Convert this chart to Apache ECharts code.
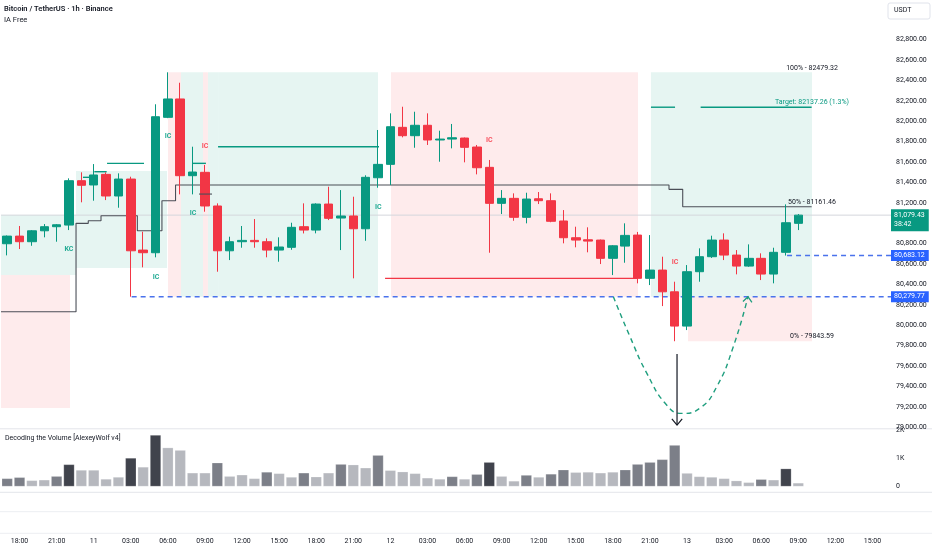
<!DOCTYPE html>
<html><head><meta charset="utf-8">
<script src="https://cdn.jsdelivr.net/npm/echarts@6/dist/echarts.min.js"></script>
<style>html,body{margin:0;padding:0;background:#fff}#c{width:932px;height:550px}</style>
</head><body><div id="c"></div><script>
// ---- time axis (one category per hour, 17:00 on day 10 .. 16:00 on day 13)
const timeLabels = ['17:00','18:00','19:00','20:00','21:00','22:00','23:00','11',
 '01:00','02:00','03:00','04:00','05:00','06:00','07:00','08:00','09:00','10:00','11:00','12:00','13:00','14:00','15:00','16:00','17:00','18:00','19:00','20:00','21:00','22:00','23:00','12',
 '01:00','02:00','03:00','04:00','05:00','06:00','07:00','08:00','09:00','10:00','11:00','12:00','13:00','14:00','15:00','16:00','17:00','18:00','19:00','20:00','21:00','22:00','23:00','13',
 '01:00','02:00','03:00','04:00','05:00','06:00','07:00','08:00','09:00','10:00','11:00','12:00','13:00','14:00','15:00','16:00'];

// ---- candles [open, close, low, high]
const candles = [
 [80799,80874,80685,80880],[80874,80819,80747,80973],[80819,80926,80779,80933],[80926,80966,80862,80992],
 [80966,80985,80819,80992],[80982,81417,80933,81440],[81417,81372,81205,81499],[81375,81473,81221,81580],
 [81479,81267,81227,81499],[81267,81433,81152,81489],[81433,80730,80280,81456],[80737,80711,80568,80917],
 [80711,82044,80666,82166],[82038,82218,82030,82479.32],[82218,81466,81283,82377],[81466,81502,81283,81750],
 [81499,81169,81113,81571],[81169,80730,80525,81195],[80730,80819,80639,80868],[80819,80832,80760,80973],
 [80832,80819,80760,81041],[80819,80737,80666,80852],[80737,80767,80623,80862],[80764,80960,80740,81005],
 [80966,80933,80900,81195],[80933,81188,80901,81195],[81188,81048,81031,81358],[81051,81071,80737,81325],
 [81071,80946,80460,81260],[80946,81450,80828,81470],[81446,81577,81348,81914],[81577,81946,81375,82077],
 [81940,81858,81842,82142],[81858,81960,81740,82093],[81960,81816,81767,82077],[81816,81825,81603,81907],
 [81825,81838,81734,81973],[81835,81744,81597,81840],[81747,81544,81479,81767],[81548,81195,80711,81620],
 [81195,81244,81090,81325],[81244,81058,81024,81293],[81058,81237,80999,81299],[81240,81221,81188,81306],
 [81221,81019,81010,81293],[81022,80858,80803,81129],[80858,80835,80764,80966],[80838,80825,80715,80960],
 [80835,80656,80600,80840],[80656,80779,80492,80785],[80776,80881,80613,80999],[80884,80460,80411,80915],
 [80460,80541,80394,80884],[80541,80328,80188,80672],[80328,79992,79843.59,80427],[79992,80525,79953,80590],
 [80525,80672,80427,80754],[80672,80835,80660,80878],[80835,80688,80639,80901],[80688,80580,80499,80737],
 [80580,80656,80573,80793],[80656,80502,80443,80705],[80502,80715,80411,80760],[80715,81005,80683.12,81185],
 [80999,81079.43,80933,81090]
];

// ---- volume (units) and its shade level: 0 light, 1 medium, 2 dark
const volumes = [290,330,220,240,370,790,590,590,270,340,1020,700,1840,1390,1300,490,490,850,370,420,290,520,470,340,490,350,490,800,780,670,1120,580,530,470,310,270,360,270,440,870,370,200,410,340,450,600,510,520,490,520,600,800,870,970,1480,480,360,340,290,210,150,260,240,640,130];
const volumeLevel = [1,1,0,0,1,2,0,0,0,0,2,0,2,0,0,0,0,1,0,0,0,1,0,0,1,0,0,1,0,0,1,0,0,0,0,0,1,0,1,2,0,0,1,0,1,1,0,0,0,0,1,1,1,1,1,0,0,0,0,0,0,1,0,2,0];

// ---- price levels
const level100 = 82479.32, level50 = 81161.46, level0 = 79843.59, targetLevel = 82137.26;
const blueLevels = [[10.07, 80279.77], [63.09, 80683.12]];
const lastPrice = 81079.43, countdown = '38:42';

// ---- zones [xStart, xEnd, priceTop, priceBottom] (x in candle-index units)
const tealZones = [[-0.5,5.57,81080,80492],[5.57,12.93,81512,80561],[14.06,15.84,level100,80279.77],[16.24,17.06,level100,80279.77],[17.06,30.0,level100,80279.77],[52.08,65.11,level100,80279.77]];
const redZones = [[-0.5,5.08,80492,79188],[13.01,14.06,level100,80279.77],[15.84,16.24,level100,80279.77],[31.05,51.03,level100,80279.77],[55.08,65.11,80279.77,level0]];

// ---- horizontal segments [xStart, xEnd, price]
const tealSegments = [[8.08,11.07,81587],[6.13,7.1,81450],[7.05,8.05,81505],[15.03,16.08,81587],[17.06,30.08,81750],[52.08,54.03,targetLevel],[56.1,65.08,targetLevel]];
const redSegments = [[30.57,50.95,80460]];
const darkSegments = [[15.52,16.57,81286]];

// ---- step line (dark) vertices [x, price]
const stepLine = [[-0.5,80132],[5.57,80132],[5.57,80999],[6.56,80999],[6.56,81025],[7.59,81025],[7.59,81074],[10.53,81074],[10.53,80927],[12.52,80927],[12.52,81221],[13.62,81221],[13.62,81375],[53.54,81375],[53.54,81332],[54.65,81332],[54.65,level50],[65.08,level50]];

// ---- dashed projection arc [x, price]
const arcPoints = [[49.04,80279.8],[50.39,79887],[51.74,79531],[53.35,79218],[54.57,79136],[56.05,79188],[57.40,79397],[58.74,79789],[59.93,80280]];
// ---- down arrow [x, priceFrom, priceTo]
const downArrow = [54.19, 79718, 79022];

// ---- text labels [x, price, text]
const levelTexts = [[65.11,level100,'100% - 82479.32'],[65.11,level50,'50% - 81161.46'],[65.11,level0,'0% - 79843.59']];
const targetTexts = [[65.11,targetLevel,'Target: 82137.26 (1.3%)']];
const greenMarks = [[5.0,80747,'KC'],[12.04,80472,'IC'],[13.01,81855,'IC'],[15.03,81100,'IC'],[30.02,81159,'IC']];
const redMarks = [[16.0,81757,'IC'],[39.0,81809,'IC'],[54.03,80620,'IC']];

const UP = '#089981', DOWN = '#f23645', TXT = '#131722', FONT = 'Roboto, sans-serif';
const volColors = ['#b6b8be', '#7c7f88', '#40434c'];
const fmt = v => v.toLocaleString('en-US', {minimumFractionDigits: 2, maximumFractionDigits: 2});

function zoneSeries(zones, color) {
  return {type: 'custom', xAxisIndex: 1, yAxisIndex: 0, z: 1, silent: true,
    encode: {x: [0, 2], y: [1, 3]},
    data: zones.map(z => [z[0], z[2], z[1], z[3]]),
    renderItem: (p, api) => {
      const a = api.coord([api.value(0), api.value(1)]);
      const b = api.coord([api.value(2), api.value(3)]);
      return {type: 'rect', shape: {x: a[0], y: a[1], width: b[0] - a[0], height: b[1] - a[1]}, style: {fill: color}};
    }};
}
function segSeries(segs, color, width, z) {
  return {type: 'custom', xAxisIndex: 1, yAxisIndex: 0, z: z, silent: true,
    encode: {x: [0, 2], y: [1, 3]},
    data: segs.map(s => [s[0], s[2], s[1], s[2]]),
    renderItem: (p, api) => {
      const a = api.coord([api.value(0), api.value(1)]);
      const b = api.coord([api.value(2), api.value(3)]);
      return {type: 'line', shape: {x1: a[0], y1: a[1], x2: b[0], y2: b[1]}, style: {stroke: color, lineWidth: width}};
    }};
}
function textSeries(items, color, size, weight, vAlign, dy) {
  return {type: 'custom', xAxisIndex: 1, yAxisIndex: 0, z: 8, silent: true,
    data: items.map(t => [t[0], t[1]]),
    renderItem: (p, api) => {
      const a = api.coord([api.value(0), api.value(1)]);
      return {type: 'text', x: a[0], y: a[1] + dy,
        style: {text: items[p.dataIndex][2], fill: color, font: weight + ' ' + size + 'px ' + FONT, align: 'center', verticalAlign: vAlign}};
    }};
}
function chevron(tip, dir, len, color, width) {
  const ang = Math.atan2(dir[1], dir[0]);
  const s = 0.7;
  const p1 = [tip[0] - len * Math.cos(ang - s), tip[1] - len * Math.sin(ang - s)];
  const p2 = [tip[0] - len * Math.cos(ang + s), tip[1] - len * Math.sin(ang + s)];
  return {type: 'polyline', shape: {points: [p1, tip, p2]}, style: {stroke: color, lineWidth: width, fill: null}};
}

const chart = echarts.init(document.getElementById('c'));
chart.setOption({
  animation: false,
  textStyle: {fontFamily: FONT},
  grid: [
    {left: 1, top: 0, width: 890, height: 427.3},
    {left: 1, top: 430.5, width: 890, height: 56}
  ],
  xAxis: [
    {type: 'category', gridIndex: 0, data: timeLabels, boundaryGap: true, axisLine: {show: false}, axisTick: {show: false}, axisLabel: {show: false}, splitLine: {show: false}},
    {type: 'value', gridIndex: 0, min: -0.5, max: 71.5, show: false},
    {type: 'category', gridIndex: 1, data: timeLabels, boundaryGap: true, axisLine: {show: false}, axisTick: {show: false}, splitLine: {show: false},
      axisLabel: {show: true, interval: (i) => i % 3 === 1, margin: 51, fontSize: 7, color: TXT}}
  ],
  yAxis: [
    {type: 'value', gridIndex: 0, position: 'right', min: 79000, max: 83188, interval: 200, scale: true,
      axisLine: {show: false}, axisTick: {show: false}, splitLine: {show: false},
      axisLabel: {fontSize: 7, color: TXT, margin: 5, formatter: v => v >= 83000 ? '' : fmt(v)}},
    {type: 'value', gridIndex: 1, position: 'right', min: 0, max: 2000, interval: 1000,
      axisLine: {show: false}, axisTick: {show: false}, splitLine: {show: false},
      axisLabel: {fontSize: 7, color: TXT, margin: 5, formatter: v => v === 0 ? '0' : (v / 1000) + 'K'}}
  ],
  graphic: [
    {type: 'line', shape: {x1: 0, y1: 428.8, x2: 932, y2: 428.8}, style: {stroke: '#e3e5ea', lineWidth: 1}, silent: true},
    {type: 'line', shape: {x1: 0, y1: 492.3, x2: 932, y2: 492.3}, style: {stroke: '#e3e5ea', lineWidth: 1}, silent: true},
    {type: 'line', shape: {x1: 0, y1: 511.7, x2: 932, y2: 511.7}, style: {stroke: '#eceef2', lineWidth: 1}, silent: true},
    {type: 'line', shape: {x1: 0, y1: 533.3, x2: 932, y2: 533.3}, style: {stroke: '#eceef2', lineWidth: 1}, silent: true},
    {type: 'text', left: 4, top: 5, style: {text: 'Bitcoin / TetherUS · 1h · Binance', font: '600 7.5px ' + FONT, fill: TXT}},
    {type: 'text', left: 4, top: 16, style: {text: 'IA Free', font: '7.5px ' + FONT, fill: TXT}},
    {type: 'text', left: 5, top: 435, style: {text: 'Decoding the Volume [AlexeyWolf v4]', font: '7px ' + FONT, fill: TXT}},
    {type: 'rect', shape: {x: 888, y: 3, width: 42, height: 16, r: 2}, style: {fill: '#fff', stroke: '#e0e3eb', lineWidth: 1}, z: 10},
    {type: 'text', left: 894, top: 7, style: {text: 'USDT', font: '7px ' + FONT, fill: TXT}, z: 11}
  ],
  series: [
    zoneSeries(tealZones, 'rgba(8,153,129,0.10)'),
    zoneSeries(redZones, 'rgba(242,54,69,0.10)'),
    {type: 'line', xAxisIndex: 1, yAxisIndex: 0, z: 2, silent: true, symbol: 'none',
      data: [[-0.5, lastPrice], [71.5, lastPrice]], lineStyle: {color: '#d4d6dc', width: 1},
      endLabel: {show: true, distance: 0, offset: [0, 5], formatter: () => fmt(lastPrice) + '\n' + countdown,
        backgroundColor: UP, color: '#fff', fontSize: 7, lineHeight: 9, padding: [2, 4, 2, 3], align: 'left'}},
    {type: 'line', xAxisIndex: 1, yAxisIndex: 0, z: 3, silent: true, symbol: 'none', data: stepLine,
      lineStyle: {color: '#4b4e57', width: 1.1}},
    segSeries(tealSegments, UP, 1.4, 3),
    segSeries(redSegments, DOWN, 1.4, 3),
    segSeries(darkSegments, '#4b4e57', 1.1, 6),
    ...blueLevels.map(b => ({type: 'line', xAxisIndex: 1, yAxisIndex: 0, z: 3, silent: true, symbol: 'none',
      data: [[b[0], b[1]], [71.5, b[1]]], lineStyle: {color: '#4a72ec', width: 1.4, type: [5, 4]},
      endLabel: {show: true, distance: 0, formatter: () => fmt(b[1]), backgroundColor: '#2962ff', color: '#fff', fontSize: 7, padding: [2, 4, 2, 3], align: 'left'}})),
    {type: 'candlestick', xAxisIndex: 0, yAxisIndex: 0, z: 5, barWidth: 9, data: candles,
      itemStyle: {color: UP, color0: DOWN, borderColor: UP, borderColor0: DOWN, borderWidth: 1}},
    {type: 'bar', xAxisIndex: 2, yAxisIndex: 1, barWidth: 11, data: volumes,
      itemStyle: {color: p => volColors[volumeLevel[p.dataIndex]], borderColor: 'rgba(255,255,255,0.35)', borderWidth: 0.6}},
    {type: 'line', xAxisIndex: 1, yAxisIndex: 0, z: 6, silent: true, symbol: 'none', smooth: 0.5, data: arcPoints,
      lineStyle: {color: '#1e9e7e', width: 1.4, type: [5, 4]}},
    {type: 'custom', xAxisIndex: 1, yAxisIndex: 0, z: 6, silent: true, data: [arcPoints[arcPoints.length - 1]],
      renderItem: (p, api) => {
        const tip = api.coord(arcPoints[arcPoints.length - 1]);
        const prev = api.coord(arcPoints[arcPoints.length - 2]);
        return chevron(tip, [ (tip[0] - prev[0]) * 0.35, tip[1] - prev[1] ], 7, '#1e9e7e', 1.3);
      }},
    {type: 'custom', xAxisIndex: 1, yAxisIndex: 0, z: 7, silent: true, data: [[downArrow[0], downArrow[1]]],
      renderItem: (p, api) => {
        const a = api.coord([downArrow[0], downArrow[1]]);
        const b = api.coord([downArrow[0], downArrow[2]]);
        return {type: 'group', children: [
          {type: 'line', shape: {x1: a[0], y1: a[1], x2: b[0], y2: b[1]}, style: {stroke: '#131722', lineWidth: 1.2}},
          chevron(b, [0, 1], 8, '#131722', 1.2)
        ]};
      }},
    textSeries(levelTexts, TXT, 7, 'normal', 'bottom', -1),
    textSeries(targetTexts, '#089981', 7, 'normal', 'bottom', -1),
    textSeries(greenMarks, '#22ab94', 7, 'bold', 'middle', 0),
    textSeries(redMarks, '#f7525f', 7, 'bold', 'middle', 0)
  ]
});
</script></body></html>
